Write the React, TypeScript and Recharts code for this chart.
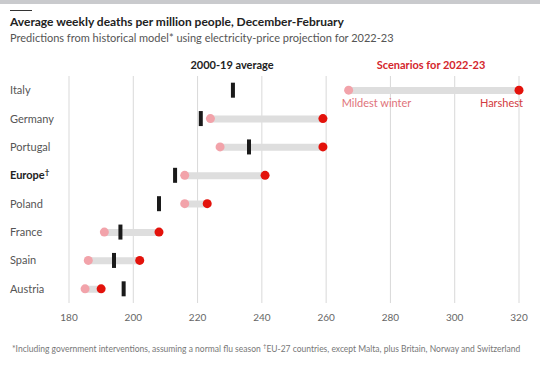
import { Bar, CartesianGrid, ComposedChart, Line, XAxis, YAxis } from "recharts";

const countries = ["Italy", "Germany", "Portugal", "Europe", "Poland", "France", "Spain", "Austria"];
const average = [231, 221, 236, 213, 208, 196, 194, 197];
const mildest = [267, 224, 227, 216, 216, 191, 186, 185];
const harshest = [320, 259, 259, 241, 223, 208, 202, 190];
const xTicks = [180, 200, 220, 240, 260, 280, 300, 320];

const data = countries.map((name, i) => ({
  name,
  avg: average[i],
  mild: mildest[i],
  harsh: harshest[i],
  range: [mildest[i], harshest[i]],
}));

const FONT = "Lato, 'Open Sans', sans-serif";
const RED = "#e3120b";
const PINK = "#f2a3aa";

const CountryTick = ({ x, y, payload }: any) => {
  const isEurope = payload.value === "Europe";
  return (
    <text x={10} y={y} dy={4} fontSize={11} fontFamily={FONT} fill={isEurope ? "#222" : "#555"} textAnchor="start">
      {isEurope ? (
        <>
          <tspan fontWeight={700}>Europe</tspan>
          <tspan fontWeight={700} fontSize={8} dy={-4}>†</tspan>
        </>
      ) : (
        payload.value
      )}
    </text>
  );
};

const AvgMark = ({ cx, cy, index }: any) => (
  <rect key={"avg" + index} x={cx - 2} y={cy - 7.5} width={4} height={15} fill="#1a1a1a" />
);

const MildDot = ({ cx, cy, index }: any) => (
  <g key={"mild" + index}>
    <circle cx={cx} cy={cy} r={4.5} fill={PINK} />
    {index === 0 && (
      <text x={cx - 7} y={cy + 17} fontSize={11} fontFamily={FONT} fill="#e0727a" textAnchor="start">
        Mildest winter
      </text>
    )}
  </g>
);

const HarshDot = ({ cx, cy, index }: any) => (
  <g key={"harsh" + index}>
    <circle cx={cx} cy={cy} r={4.5} fill={RED} />
    {index === 0 && (
      <text x={cx + 4} y={cy + 17} fontSize={11} fontFamily={FONT} fill="#d23a40" textAnchor="end">
        Harshest
      </text>
    )}
  </g>
);

export default function App() {
  return (
    <div style={{ position: "absolute", left: 0, top: 0, width: 540, height: 365, background: "#fff", fontFamily: FONT }}>
      <div style={{ position: "absolute", left: 0, top: 0, width: 540, height: 4, background: "#c9cacd" }} />
      <div style={{ position: "absolute", left: 10, top: 10, width: 22, height: 1, background: "#333" }} />
      <div style={{ position: "absolute", left: 10, top: 14, fontSize: 12, fontWeight: 700, color: "#222", whiteSpace: "nowrap" }}>
        Average weekly deaths per million people, December-February
      </div>
      <div style={{ position: "absolute", left: 10, top: 31, fontSize: 11, color: "#555", whiteSpace: "nowrap" }}>
        Predictions from historical model* using electricity-price projection for 2022-23
      </div>
      <div style={{ position: "absolute", left: 232, top: 58, transform: "translateX(-50%)", fontSize: 11, fontWeight: 700, color: "#222", whiteSpace: "nowrap" }}>
        2000-19 average
      </div>
      <div style={{ position: "absolute", left: 431, top: 58, transform: "translateX(-50%)", fontSize: 11, fontWeight: 700, color: "#d4262c", whiteSpace: "nowrap" }}>
        Scenarios for 2022-23
      </div>
      <div style={{ position: "absolute", left: 0, top: 0 }}>
        <ComposedChart
          width={540}
          height={365}
          data={data}
          layout="vertical"
          margin={{ top: 76, right: 21, bottom: 32, left: 10 }}
        >
          <CartesianGrid horizontal={false} stroke="#d9d9d9" />
          <XAxis
            type="number"
            domain={[180, 320]}
            ticks={xTicks}
            axisLine={false}
            tickLine={false}
            height={30}
            tickMargin={5}
            tick={{ fontSize: 10, fill: "#666", fontFamily: FONT }}
          />
          <YAxis
            type="category"
            dataKey="name"
            width={59}
            axisLine={false}
            tickLine={false}
            tick={<CountryTick />}
          />
          <Bar dataKey="range" barSize={7} fill="#dedede" isAnimationActive={false} legendType="none" />
          <Line dataKey="avg" stroke="none" dot={AvgMark} activeDot={false} isAnimationActive={false} legendType="none" />
          <Line dataKey="mild" stroke="none" dot={MildDot} activeDot={false} isAnimationActive={false} legendType="none" />
          <Line dataKey="harsh" stroke="none" dot={HarshDot} activeDot={false} isAnimationActive={false} legendType="none" />
        </ComposedChart>
      </div>
      <div style={{ position: "absolute", left: 12, top: 342, fontSize: 8.5, color: "#777", whiteSpace: "nowrap" }}>
        *Including government interventions, assuming a normal flu season <sup style={{ fontSize: 6 }}>†</sup>EU-27 countries, except Malta, plus Britain, Norway and Switzerland
      </div>
    </div>
  );
}
